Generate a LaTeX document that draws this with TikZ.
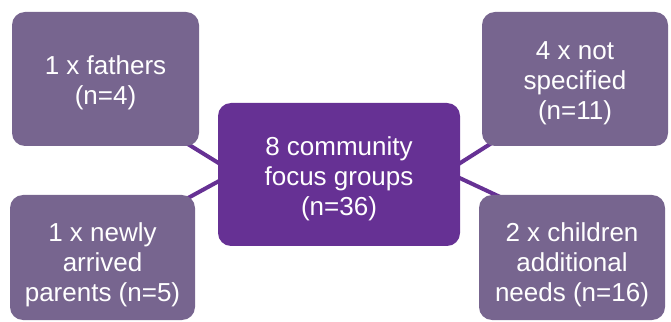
\documentclass[tikz,border=0pt]{standalone}
\usepackage{fontspec}
\setmainfont{Liberation Sans}
\usetikzlibrary{backgrounds,calc}
\definecolor{sidebox}{RGB}{119,101,143}
\definecolor{hubbox}{RGB}{102,49,148}
\newcommand{\lift}[1]{\rule{0pt}{#1}}
\begin{document}
\begin{tikzpicture}[x=1pt,y=1pt,
  box/.style={draw=none,rounded corners=13pt,text=white,align=center,
    inner sep=0pt,font=\fontsize{26}{30}\selectfont},
  sidebox/.style={box,fill=sidebox},
  hubbox/.style={box,fill=hubbox},
  link/.style={draw=hubbox,line width=4pt}]
\useasboundingbox (0,0) rectangle (671,321);
\node[hubbox,minimum width=242pt,minimum height=143pt] (c) at (339,146.5) {\lift{27pt}8 community\\focus groups\\(n=36)};
\node[sidebox,minimum width=187pt,minimum height=134pt] (tl) at (105.5,242) {\lift{26pt}1 x fathers\\(n=4)};
\node[sidebox,minimum width=185pt,minimum height=125pt] (bl) at (102.5,63.5) {\lift{33pt}1 x newly\\arrived\\parents (n=5)};
\node[sidebox,minimum width=186pt,minimum height=134pt] (tr) at (575,242) {\lift{26pt}4 x not\\specified\\(n=11)};
\node[sidebox,minimum width=186pt,minimum height=125pt] (br) at (572,63.5) {\lift{33pt}2 x children\\additional\\needs (n=16)};
\begin{scope}[on background layer]
\draw[link] ($(tl.south east)+(-16,5)$) -- ($(c.west)+(8,7)$);
\draw[link] ($(bl.north east)+(-9,-4.2)$) -- ($(c.west)+(8,-2.8)$);
\draw[link] ($(tr.south west)+(12,4.5)$) -- ($(c.east)+(-8,6.4)$);
\draw[link] ($(br.north west)+(21,-2)$) -- ($(c.east)+(-8,0)$);
\end{scope}
\end{tikzpicture}
\end{document}
